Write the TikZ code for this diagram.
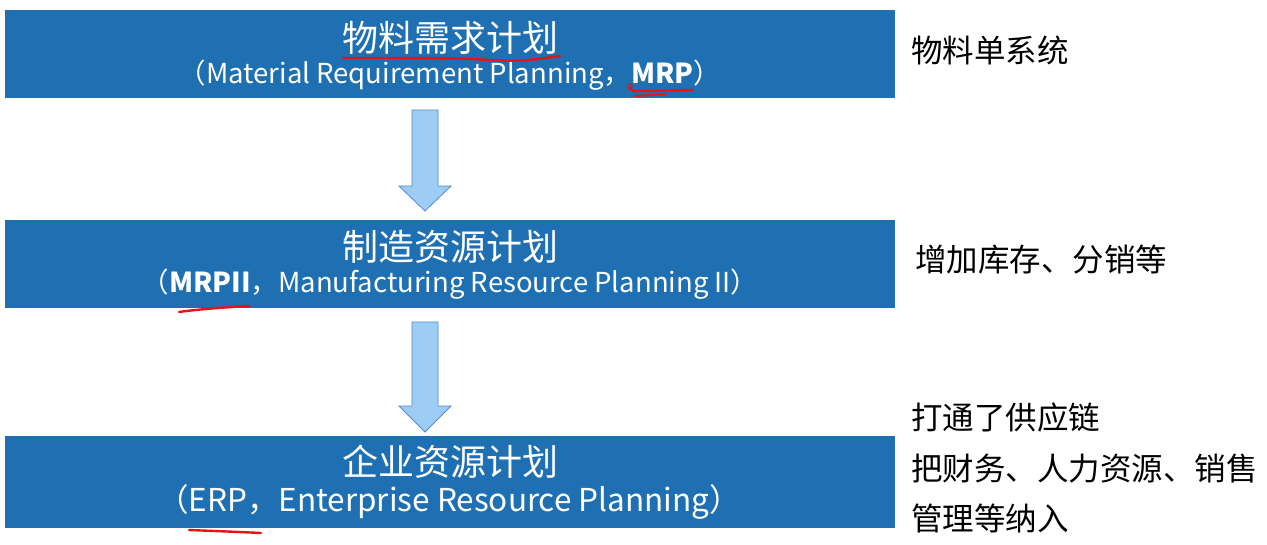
\documentclass[tikz,border=0pt]{standalone}
\usepackage{fontspec}
\setmainfont{Noto Sans CJK SC}
\definecolor{boxblue}{RGB}{31,112,178}
\definecolor{arrowfill}{RGB}{157,204,245}
\definecolor{arrowline}{RGB}{80,140,205}
\definecolor{pen}{RGB}{228,20,20}
\begin{document}
\begin{tikzpicture}[x=1pt,y=-1pt,
  box/.style={fill=boxblue,draw=none,minimum width=890pt,minimum height=88pt,inner sep=0pt,anchor=north west},
  title/.style={text=white,font=\fontsize{36}{38}\selectfont,inner sep=0pt},
  sub/.style={text=white,font=\fontsize{27.5}{30}\selectfont,inner sep=0pt},
  note/.style={text=black,font=\fontsize{31.5}{34}\selectfont,inner sep=0pt,anchor=west},
  bigarrow/.style={fill=arrowfill,draw=arrowline,line width=0.8pt,line join=miter},
  ink/.style={draw=pen,line width=2.4pt,line cap=round,line join=round}]
\useasboundingbox (0,0) rectangle (1267,544);
\fill[white] (0,0) rectangle (1267,544);
% boxes
\node[box] (b1) at (5,10) {};
\node[box] (b2) at (5,220) {};
\node[box,minimum height=92pt] (b3) at (5,436) {};
% texts in boxes
\node[title] (t1) at (450,38) {物料需求计划};
\node[sub] (s1) at (450,75) {（Material Requirement Planning，\textbf{MRP}）};
\node[title] (t2) at (450,247) {制造资源计划};
\node[sub] (s2) at (450,284) {（\textbf{MRPII}，Manufacturing Resource Planning II）};
\node[title] (t3) at (450,462) {企业资源计划};
\node[sub,font=\fontsize{31.5}{34}\selectfont] (s3) at (449,502) {（ERP，Enterprise Resource Planning）};
% arrows
\draw[bigarrow] (412,110) -- (438,110) -- (438,186) -- (451,186) -- (425,211) -- (399,186) -- (412,186) -- cycle;
\draw[bigarrow] (412,322) -- (438,322) -- (438,406) -- (451,406) -- (425,432) -- (399,406) -- (412,406) -- cycle;
% notes
\node[note] (n1) at (911,50) {物料单系统};
\node[note] (n2) at (915,260) {增加库存、分销等};
\node[note] (n3) at (911,418) {打通了供应链};
\node[note] (n4) at (911,469) {把财务、人力资源、销售};
\node[note] (n5) at (911,518) {管理等纳入};
% red ink marks
\draw[ink] (343,58) .. controls (400,58) and (450,58) .. (475,59) .. controls (500,61) and (520,62) .. (545,58) -- (560,56);
\draw[ink] (629,88) -- (633,91) .. controls (660,91) and (680,90) .. (693,90);
\draw[ink,line width=2pt] (635,96) -- (666,94);
\draw[pen,line width=1pt] (630,86) circle (2.2);
\draw[ink] (179,312) .. controls (200,309) and (230,307) .. (250,306);
\draw[ink] (189,530) .. controls (215,531) and (240,532) .. (261,533);
\end{tikzpicture}
\end{document}
